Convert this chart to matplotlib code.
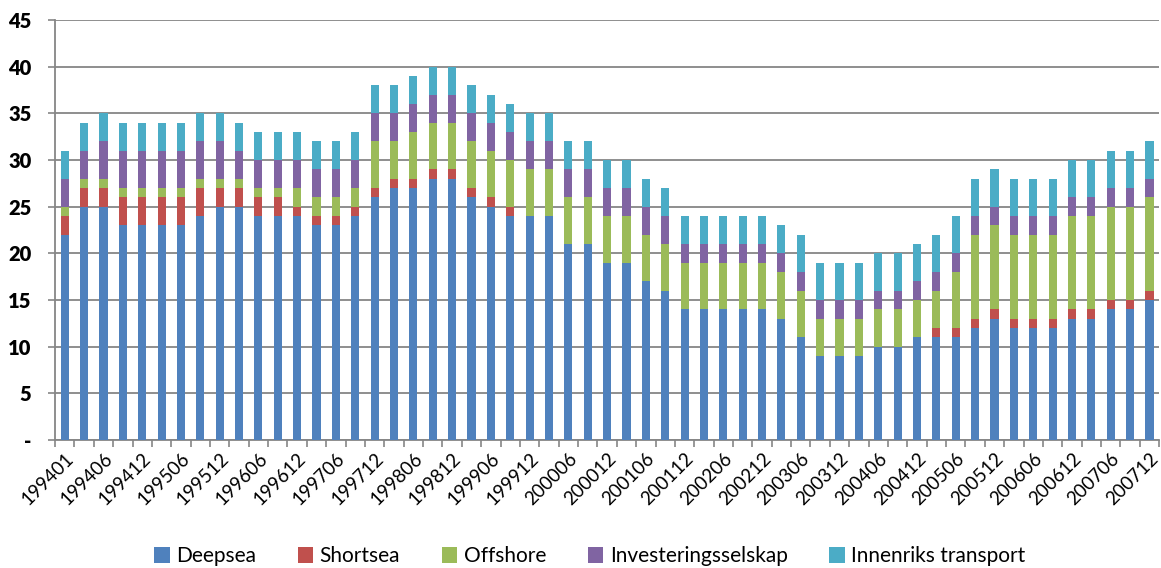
import numpy as np
import matplotlib.pyplot as plt
from matplotlib.ticker import FixedLocator, FuncFormatter

# quarterly periods 1994-2007 (1994 starts in month 01)
periods = ["199401", "199403", "199406", "199409", "199412"]
for yr in range(1995, 2008):
    for m in ["03", "06", "09", "12"]:
        periods.append(f"{yr}{m}")

deepsea = [22, 25, 25, 23, 23, 23, 23, 24, 25, 25, 24, 24, 24, 23, 23, 24,
           26, 27, 27, 28, 28, 26, 25, 24, 24, 24, 21, 21, 19, 19, 17, 16,
           14, 14, 14, 14, 14, 13, 11, 9, 9, 9, 10, 10, 11, 11, 11, 12,
           13, 12, 12, 12, 13, 13, 14, 14, 15]
shortsea = [2, 2, 2, 3, 3, 3, 3, 3, 2, 2, 2, 2, 1, 1, 1, 1,
            1, 1, 1, 1, 1, 1, 1, 1, 0, 0, 0, 0, 0, 0, 0, 0,
            0, 0, 0, 0, 0, 0, 0, 0, 0, 0, 0, 0, 0, 1, 1, 1,
            1, 1, 1, 1, 1, 1, 1, 1, 1]
offshore = [1, 1, 1, 1, 1, 1, 1, 1, 1, 1, 1, 1, 2, 2, 2, 2,
            5, 4, 5, 5, 5, 5, 5, 5, 5, 5, 5, 5, 5, 5, 5, 5,
            5, 5, 5, 5, 5, 5, 5, 4, 4, 4, 4, 4, 4, 4, 6, 9,
            9, 9, 9, 9, 10, 10, 10, 10, 10]
invest = [3, 3, 4, 4, 4, 4, 4, 4, 4, 3, 3, 3, 3, 3, 3, 3,
          3, 3, 3, 3, 3, 3, 3, 3, 3, 3, 3, 3, 3, 3, 3, 3,
          2, 2, 2, 2, 2, 2, 2, 2, 2, 2, 2, 2, 2, 2, 2, 2,
          2, 2, 2, 2, 2, 2, 2, 2, 2]
innenriks = [3, 3, 3, 3, 3, 3, 3, 3, 3, 3, 3, 3, 3, 3, 3, 3,
             3, 3, 3, 3, 3, 3, 3, 3, 3, 3, 3, 3, 3, 3, 3, 3,
             3, 3, 3, 3, 3, 3, 4, 4, 4, 4, 4, 4, 4, 4, 4, 4,
             4, 4, 4, 4, 4, 4, 4, 4, 4]

series = [("Deepsea", deepsea, "#4F81BD"),
          ("Shortsea", shortsea, "#C0504D"),
          ("Offshore", offshore, "#9BBB59"),
          ("Investeringsselskap", invest, "#8064A2"),
          ("Innenriks transport", innenriks, "#4BACC6")]

plt.rcParams['font.family'] = ['Lato', 'DejaVu Sans']

fig = plt.figure(figsize=(11.61, 5.68), dpi=100)
ax = fig.add_axes([0.0474, 0.2254, 0.951, 0.7394])

x = np.arange(len(periods))
bottom = np.zeros(len(periods))
for name, vals, col in series:
    vals = np.array(vals, dtype=float)
    ax.bar(x, vals, width=0.42, bottom=bottom, color=col, label=name,
           linewidth=0, zorder=3)
    bottom += vals

ax.set_xlim(-0.5, len(periods) - 0.5)
ax.set_ylim(0, 45)
ax.set_yticks(np.arange(0, 46, 5))
ax.yaxis.set_major_formatter(FuncFormatter(lambda v, p: "-" if v == 0 else f"{int(v)}"))
for lab in ax.get_yticklabels():
    lab.set_fontweight('heavy')
ax.tick_params(axis='y', labelsize=14.5, length=5, color='#868686', width=1.2, pad=12)
ax.grid(axis='y', color='#868686', linewidth=1.3, zorder=0)

# x labels on every other category, ticks between categories
ax.set_xticks(x[::2])
ax.set_xticklabels(periods[::2], rotation=45, ha='right', rotation_mode='anchor',
                   fontsize=13.5)
ax.tick_params(axis='x', length=0, pad=7)
ax.xaxis.set_minor_locator(FixedLocator(np.arange(-0.5, len(periods), 1.0)))
ax.tick_params(axis='x', which='minor', length=5, color='#868686', width=1.2)

for s in ['top', 'right']:
    ax.spines[s].set_visible(False)
for s in ['left', 'bottom']:
    ax.spines[s].set_color('#868686')
    ax.spines[s].set_linewidth(1.3)

fig.legend(loc='lower center', ncol=5, frameon=False, fontsize=15,
           bbox_to_anchor=(0.508, -0.03), handlelength=0.75, handleheight=0.75,
           handletextpad=0.3, columnspacing=2.0)

fig.savefig("out.png", dpi=100)
